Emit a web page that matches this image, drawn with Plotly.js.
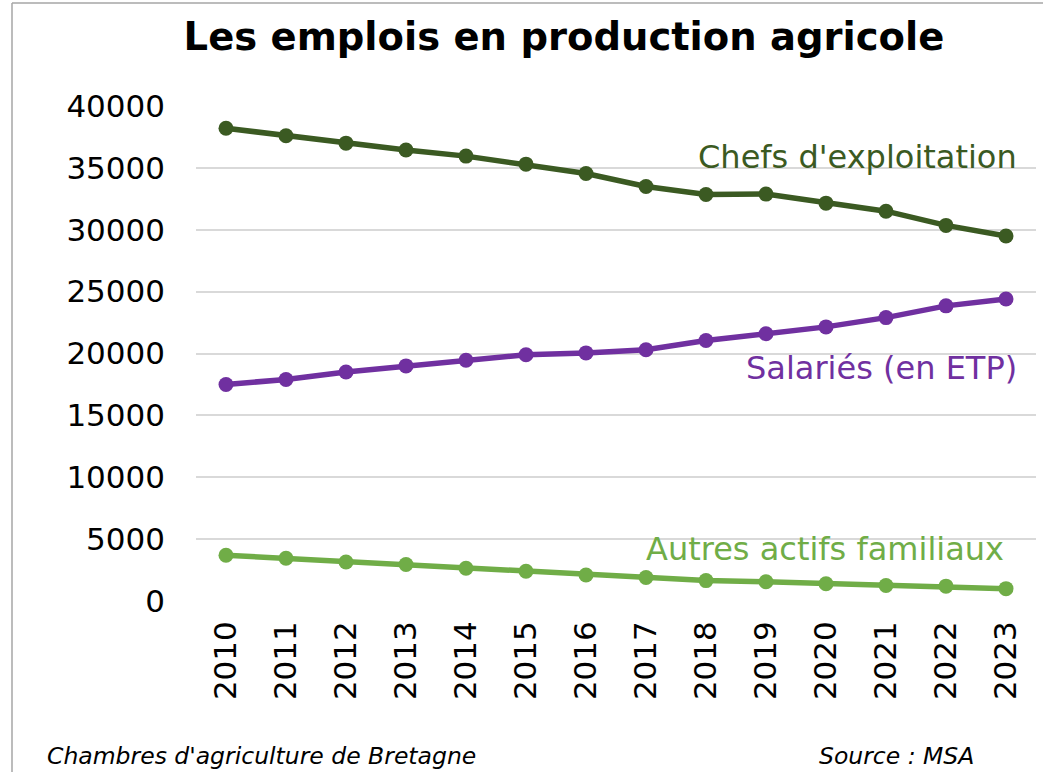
<!DOCTYPE html>
<html><head><meta charset="utf-8">
<script src="https://cdn.plot.ly/plotly-3.0.1.min.js"></script>
<style>html,body{margin:0;padding:0;background:#fff}#c{width:1043px;height:772px}</style>
</head><body><div id="c"></div>
<script>
const years = ["2010","2011","2012","2013","2014","2015","2016","2017","2018","2019","2020","2021","2022","2023"];
const chefs = [38200,37600,37000,36450,35950,35300,34550,33500,32850,32880,32150,31500,30350,29500];
const salaries = [17500,17900,18500,19000,19450,19900,20050,20300,21050,21600,22150,22900,23850,24400];
const autres = [3700,3450,3150,2950,2650,2400,2100,1900,1650,1550,1400,1250,1200,1000];
const seriesNames = ["Chefs d'exploitation","Salariés (en ETP)","Autres actifs familiaux"];
const colors = ["#3B5A22","#7030A0","#70AD47"];

const F = "DejaVu Sans, Verdana, sans-serif";
const data = [chefs, salaries, autres].map((v,i)=>({
  x: years, y: v, type:'scatter', mode:'lines+markers', name: seriesNames[i],
  line:{color:colors[i], width:5.5}, marker:{color:colors[i], size:15}, cliponaxis:false
}));

const ml=196, mr=7, mt=106, mb=171, W=1043, H=772;
const pw=W-ml-mr, ph=H-mt-mb;
const px = x => (x-ml)/pw, py = y => 1-(y-mt)/ph;

const layout = {
  width:W, height:H,
  margin:{l:ml,r:mr,t:mt,b:mb},
  paper_bgcolor:'#fff', plot_bgcolor:'#fff',
  showlegend:false,
  title:{text:'<b>Les emplois en production agricole</b>', font:{family:F, size:38.5, color:'#000'}, x:px(564), xref:'paper', xanchor:'center', y:1-37/H, yanchor:'middle'},
  xaxis:{type:'category', range:[-0.5,13.5], tickangle:-90, tickfont:{family:F,size:31,color:'#000'}, showgrid:false, zeroline:false, showline:false, ticks:'', ticklabelstandoff:13},
  yaxis:{range:[0,40000], dtick:5000, tickfont:{family:F,size:31,color:'#000'}, gridcolor:'#d9d9d9', gridwidth:2, zeroline:false, showline:false, ticks:'', ticklabelstandoff:30, tickformat:'d'},
  annotations:[
    {text:seriesNames[0], xref:'paper', yref:'paper', x:px(1019), y:py(157), xanchor:'right', yanchor:'middle', showarrow:false, font:{family:F,size:32,color:colors[0]}},
    {text:seriesNames[1], xref:'paper', yref:'paper', x:px(1019), y:py(368), xanchor:'right', yanchor:'middle', showarrow:false, font:{family:F,size:32,color:colors[1]}},
    {text:seriesNames[2], xref:'paper', yref:'paper', x:px(1006), y:py(549), xanchor:'right', yanchor:'middle', showarrow:false, font:{family:F,size:32,color:colors[2]}},
    {text:"<i>Chambres d'agriculture de Bretagne</i>", xref:'paper', yref:'paper', x:px(45), y:py(756), xanchor:'left', yanchor:'middle', showarrow:false, font:{family:F,size:23.5,color:'#000'}},
    {text:"<i>Source : MSA</i>", xref:'paper', yref:'paper', x:px(817), y:py(756), xanchor:'left', yanchor:'middle', showarrow:false, font:{family:F,size:23.5,color:'#000'}}
  ],
  shapes:[
    {type:'line', xref:'paper', yref:'paper', x0:px(12), x1:px(12), y0:py(3), y1:py(772), line:{color:'#a6a6a6', width:1.5}},
    {type:'line', xref:'paper', yref:'paper', x0:px(12), x1:px(1043), y0:py(3), y1:py(3), line:{color:'#a6a6a6', width:1.5}}
  ]
};
Plotly.newPlot('c', data, layout, {staticPlot:true, displayModeBar:false});
</script></body></html>
